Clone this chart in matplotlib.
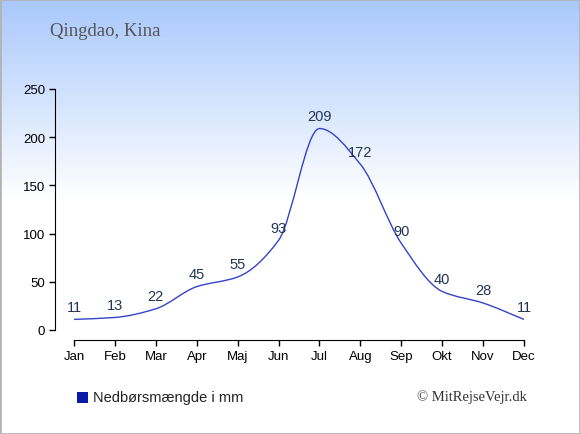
import matplotlib.pyplot as plt
import numpy as np
from matplotlib.path import Path
from matplotlib.patches import PathPatch, Rectangle

months = ['Jan', 'Feb', 'Mar', 'Apr', 'Maj', 'Jun', 'Jul', 'Aug', 'Sep', 'Okt', 'Nov', 'Dec']
rain_mm = [11, 13, 22, 45, 55, 93, 209, 172, 90, 40, 28, 11]
y_ticks = [0, 50, 100, 150, 200, 250]

fig = plt.figure(figsize=(5.8, 4.35), dpi=100)

# background gradient: light blue at top fading to white
bg = fig.add_axes([0, 0, 1, 1], zorder=-10)
grad = np.ones((435, 1, 3))
top = np.array([0xa8, 0xc8, 0xfc]) / 255
fade = np.clip(np.arange(435) / 200.0, 0, 1)[:, None]
grad[:, 0, :] = top * (1 - fade) + fade
bg.imshow(grad, aspect='auto', extent=[0, 1, 0, 1])
bg.add_patch(Rectangle((0, 0), 1, 1, transform=bg.transAxes, fill=False,
                       edgecolor='#b4b4b4', linewidth=2))
bg.set_axis_off()

ax = fig.add_axes([55 / 580, 1 - 341 / 435, 469 / 580, 251 / 435])
ax.patch.set_alpha(0)
ax.set_xlim(-19 / (450 / 11), 11)
ax.set_ylim(-10 / (241 / 250), 250)

# monotone cubic curve through the points, drawn as bezier segments
x = np.arange(len(rain_mm), dtype=float)
y = np.array(rain_mm, dtype=float)
d = np.diff(y)
m = np.zeros_like(y)
m[0], m[-1] = d[0], d[-1]
for i in range(1, len(y) - 1):
    if d[i - 1] * d[i] > 0:
        m[i] = 2 / (1 / d[i - 1] + 1 / d[i])
verts = [(x[0], y[0])]
codes = [Path.MOVETO]
for i in range(len(x) - 1):
    verts += [(x[i] + 1 / 3, y[i] + m[i] / 3),
              (x[i + 1] - 1 / 3, y[i + 1] - m[i + 1] / 3),
              (x[i + 1], y[i + 1])]
    codes += [Path.CURVE4] * 3
ax.add_patch(PathPatch(Path(verts, codes), fill=False, edgecolor='#3443c8', linewidth=1.0))

for i, v in enumerate(rain_mm):
    ax.annotate(str(v), (i, v), xytext=(0, 4), textcoords='offset points',
                ha='center', va='bottom', fontsize=10.5, color='#233556',
                family='Liberation Sans')

for s in ['top', 'right']:
    ax.spines[s].set_visible(False)
ax.spines['left'].set_bounds(0, 250)
ax.spines['bottom'].set_bounds(0, 11)
ax.set_yticks(y_ticks)
ax.set_xticks(range(12))
ax.set_xticklabels(months)
ax.tick_params(axis='both', length=4, width=1, labelsize=9.5, pad=3)
for lbl in ax.get_xticklabels() + ax.get_yticklabels():
    lbl.set_family('Liberation Sans')

fig.text(50 / 580, 1 - 32 / 435, 'Qingdao, Kina', fontsize=13.5, color='#555555',
         family='Liberation Serif', va='center', ha='left')

fig.patches.append(Rectangle((77 / 580, 1 - 404 / 435), 11 / 580, 11 / 435,
                             transform=fig.transFigure, facecolor='#0a1aa8',
                             edgecolor='none'))
fig.text(93 / 580, 1 - 398 / 435, 'Nedbørsmængde i mm', fontsize=10.5,
         color='#222222', family='Liberation Sans', va='center', ha='left')
fig.text(527 / 580, 1 - 397 / 435, '© MitRejseVejr.dk', fontsize=10.5,
         color='#333333', family='Liberation Serif', va='center', ha='right')

fig.savefig('out.png', dpi=100)
